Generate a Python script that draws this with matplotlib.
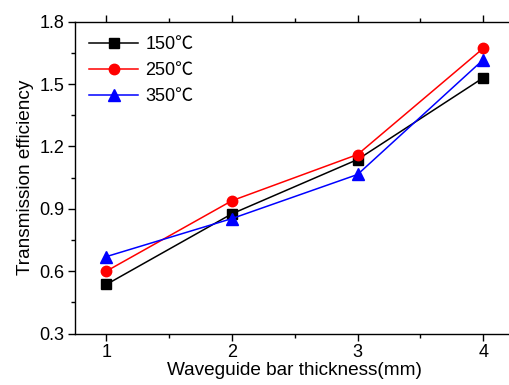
import numpy as np
import matplotlib.pyplot as plt
from matplotlib.ticker import MultipleLocator

# waveguide bar thickness (mm)
thickness = [1, 2, 3, 4]

# transmission efficiency at each temperature
eff_150 = [0.536, 0.876, 1.137, 1.530]
eff_250 = [0.600, 0.939, 1.161, 1.672]
eff_350 = [0.670, 0.853, 1.065, 1.617]

labels = ['150\u2103', '250\u2103', '350\u2103']

plt.rcParams['font.family'] = ['Liberation Sans', 'Noto Sans CJK SC']

W, H = 509, 385
fig = plt.figure(figsize=(W/100, H/100), dpi=100)
# axes runs past the right edge of the picture, as in the original
left, right, top, bottom = 75, 514.6, 21.7, 333.5
ax = fig.add_axes([left/W, 1-bottom/H, (right-left)/W, (bottom-top)/H])

ax.plot(thickness, eff_150, color='black', marker='s', markersize=7, lw=1.1, label=labels[0])
ax.plot(thickness, eff_250, color='red', marker='o', markersize=7.5, lw=1.1, label=labels[1])
ax.plot(thickness, eff_350, color='blue', marker='^', markersize=8, lw=1.1, label=labels[2])

ax.set_xlim(0.75, 4.25)
ax.set_ylim(0.3, 1.8)
ax.xaxis.set_major_locator(MultipleLocator(1))
ax.xaxis.set_minor_locator(MultipleLocator(0.5))
ax.yaxis.set_major_locator(MultipleLocator(0.3))
ax.yaxis.set_minor_locator(MultipleLocator(0.15))
ax.tick_params(which='both', direction='out', top=True, right=True, width=1, labelsize=13)
ax.tick_params(which='major', length=5, pad=2.5)
ax.tick_params(which='minor', length=3)
for s in ax.spines.values():
    s.set_linewidth(1)

ax.set_xlabel('Waveguide bar thickness(mm)', fontsize=13.7, labelpad=1)
ax.set_ylabel('Transmission efficiency', fontsize=13.7, labelpad=4)
ax.legend(loc='upper left', frameon=False, fontsize=13, handlelength=2.7,
          borderaxespad=0.4, labelspacing=0.5, handletextpad=0.4)

fig.savefig('out.png', dpi=100)
